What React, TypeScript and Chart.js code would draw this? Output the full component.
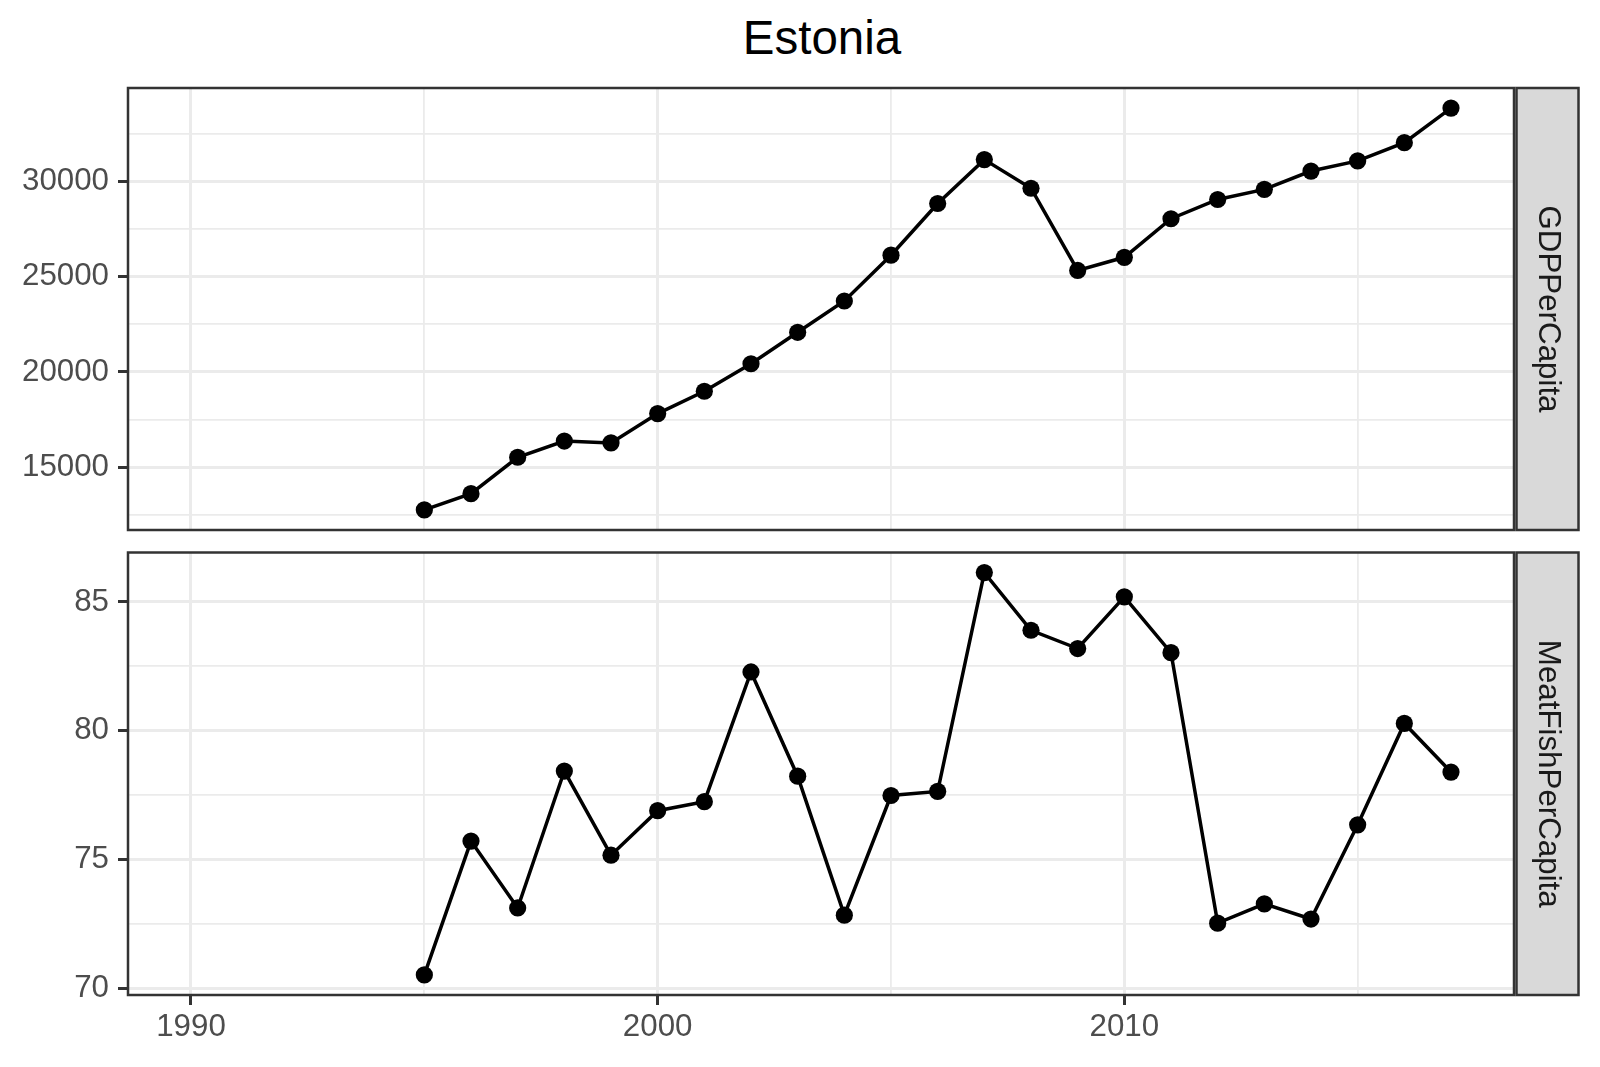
import React, { useEffect, useRef } from "react";
import { Chart, registerables } from "chart.js";

Chart.register(...registerables);

// ---------------- data ----------------
const TITLE = "Estonia";
const PANEL_LABELS = ["GDPPerCapita", "MeatFishPerCapita"];
const YEARS = [
  1995, 1996, 1997, 1998, 1999, 2000, 2001, 2002, 2003, 2004, 2005, 2006,
  2007, 2008, 2009, 2010, 2011, 2012, 2013, 2014, 2015, 2016, 2017,
];
const GDP_PER_CAPITA = [
  12770, 13620, 15530, 16380, 16280, 17820, 18990, 20430, 22080, 23720, 26120,
  28830, 31130, 29630, 25320, 26010, 28030, 29040, 29570, 30530, 31060, 32020,
  33830,
];
const MEAT_FISH_PER_CAPITA = [
  70.51, 75.71, 73.11, 78.43, 75.16, 76.89, 77.24, 82.28, 78.23, 72.83, 77.48,
  77.64, 86.14, 83.9, 83.19, 85.2, 83.03, 72.52, 73.27, 72.68, 76.34, 80.28,
  78.39,
];
// full year span of the series (1990-1994 are missing values)
const YEAR_SPAN = [1990, 2017];
const X_MAJOR = [1990, 2000, 2010];
const X_MINOR = [1995, 2005, 2015];
const GDP_MAJOR = [15000, 20000, 25000, 30000];
const GDP_MINOR = [12500, 17500, 22500, 27500, 32500];
const MEAT_MAJOR = [70, 75, 80, 85];
const MEAT_MINOR = [72.5, 77.5, 82.5];

// ---------------- layout / style ----------------
const W = 1600;
const H = 1067;
const PANEL_LEFT = 128;
const PANEL_RIGHT = 1514;
const TOP_PANEL = [88, 530];
const BOTTOM_PANEL = [552.5, 995];
const FONT = '"Liberation Sans", Arial, Helvetica, sans-serif';
const TICK_FONT_SIZE = 31.3;
const GRID_COLOR = "#EBEBEB";
const DARK = "#333333";
const MAJOR_W = 3;
const MINOR_W = 1.8;

const expand = (lo: number, hi: number) => {
  const d = hi - lo;
  return [lo - 0.05 * d, hi + 0.05 * d];
};

const panelPlugin = {
  id: "panelDeco",
  afterDraw(chart: any, _args: any, opts: any) {
    const { ctx, chartArea: a } = chart;
    ctx.save();
    ctx.strokeStyle = DARK;
    ctx.lineWidth = 2.5;
    ctx.strokeRect(a.left, a.top, a.right - a.left, a.bottom - a.top);
    const sx = a.right + 2.5;
    const sw = 62;
    ctx.fillStyle = "#D9D9D9";
    ctx.fillRect(sx, a.top, sw, a.bottom - a.top);
    ctx.strokeRect(sx, a.top, sw, a.bottom - a.top);
    ctx.translate(sx + sw / 2, (a.top + a.bottom) / 2);
    ctx.rotate(Math.PI / 2);
    ctx.fillStyle = "#1A1A1A";
    ctx.font = `${TICK_FONT_SIZE}px ${FONT}`;
    ctx.textAlign = "center";
    ctx.textBaseline = "middle";
    ctx.fillText(opts.label, 0, 0);
    ctx.restore();
  },
};

function buildConfig(
  values: number[],
  major: number[],
  minor: number[],
  label: string,
  panel: number[],
  showX: boolean
): any {
  const [ymin, ymax] = expand(Math.min(...values), Math.max(...values));
  const [xmin, xmax] = expand(YEAR_SPAN[0], YEAR_SPAN[1]);
  const xTicks = [...X_MAJOR, ...X_MINOR].sort((p, q) => p - q);
  const yTicks = [...major, ...minor].sort((p, q) => p - q);
  const isMajorX = (c: any) => !!c.tick && X_MAJOR.includes(c.tick.value);
  const isMajorY = (c: any) => !!c.tick && major.includes(c.tick.value);
  const xAxisHeight = showX ? H - panel[1] : 0;
  return {
    type: "line",
    data: {
      datasets: [
        {
          data: YEARS.map((yr, i) => ({ x: yr, y: values[i] })),
          borderColor: "#000000",
          backgroundColor: "#000000",
          borderWidth: 3.5,
          pointRadius: 8.6,
          pointBorderWidth: 0,
          pointBackgroundColor: "#000000",
          tension: 0,
        },
      ],
    },
    options: {
      animation: false,
      responsive: false,
      devicePixelRatio: 1,
      events: [],
      layout: {
        padding: {
          left: 0,
          right: W - PANEL_RIGHT,
          top: panel[0],
          bottom: H - panel[1] - xAxisHeight,
        },
      },
      plugins: {
        legend: { display: false },
        tooltip: { enabled: false },
        title: { display: false },
        panelDeco: { label },
      },
      scales: {
        x: {
          type: "linear",
          min: xmin,
          max: xmax,
          afterBuildTicks: (s: any) => {
            s.ticks = xTicks.map((v) => ({ value: v }));
          },
          afterFit: (s: any) => {
            s.height = xAxisHeight;
          },
          border: { display: false },
          grid: {
            color: GRID_COLOR,
            lineWidth: (c: any) => (isMajorX(c) ? MAJOR_W : MINOR_W),
            drawTicks: showX,
            tickLength: 10,
            tickWidth: 3,
            tickColor: (c: any) => (isMajorX(c) ? DARK : "rgba(0,0,0,0)"),
          },
          ticks: {
            display: showX,
            autoSkip: false,
            maxRotation: 0,
            padding: 4,
            color: "#4D4D4D",
            font: { family: FONT, size: TICK_FONT_SIZE },
            callback: (v: number) => (X_MAJOR.includes(v) ? String(v) : ""),
          },
        },
        y: {
          type: "linear",
          min: ymin,
          max: ymax,
          afterBuildTicks: (s: any) => {
            s.ticks = yTicks.map((v) => ({ value: v }));
          },
          afterFit: (s: any) => {
            s.width = PANEL_LEFT;
          },
          border: { display: false },
          grid: {
            color: GRID_COLOR,
            lineWidth: (c: any) => (isMajorY(c) ? MAJOR_W : MINOR_W),
            drawTicks: true,
            tickLength: 10,
            tickWidth: 3,
            tickColor: (c: any) => (isMajorY(c) ? DARK : "rgba(0,0,0,0)"),
          },
          ticks: {
            autoSkip: false,
            padding: 9,
            color: "#4D4D4D",
            font: { family: FONT, size: TICK_FONT_SIZE },
            callback: (v: number) => (major.includes(v) ? String(v) : ""),
          },
        },
      },
    },
    plugins: [panelPlugin],
  };
}

export default function App() {
  const topRef = useRef<HTMLCanvasElement>(null);
  const bottomRef = useRef<HTMLCanvasElement>(null);

  useEffect(() => {
    const top = new Chart(
      topRef.current as HTMLCanvasElement,
      buildConfig(GDP_PER_CAPITA, GDP_MAJOR, GDP_MINOR, PANEL_LABELS[0], TOP_PANEL, false)
    );
    const bottom = new Chart(
      bottomRef.current as HTMLCanvasElement,
      buildConfig(
        MEAT_FISH_PER_CAPITA,
        MEAT_MAJOR,
        MEAT_MINOR,
        PANEL_LABELS[1],
        BOTTOM_PANEL,
        true
      )
    );
    return () => {
      top.destroy();
      bottom.destroy();
    };
  }, []);

  const canvasStyle: React.CSSProperties = {
    position: "absolute",
    left: 0,
    top: 0,
    width: W,
    height: H,
  };

  return (
    <div
      style={{
        position: "absolute",
        left: 0,
        top: 0,
        width: W,
        height: H,
        overflow: "hidden",
        background: "#FFFFFF",
      }}
    >
      <div
        style={{
          position: "absolute",
          left: 622,
          top: 14,
          width: 400,
          textAlign: "center",
          fontFamily: FONT,
          fontSize: 47.5,
          lineHeight: "47.5px",
          color: "#000000",
          whiteSpace: "nowrap",
        }}
      >
        {TITLE}
      </div>
      <canvas ref={bottomRef} width={W} height={H} style={canvasStyle} />
      <canvas ref={topRef} width={W} height={H} style={canvasStyle} />
    </div>
  );
}
